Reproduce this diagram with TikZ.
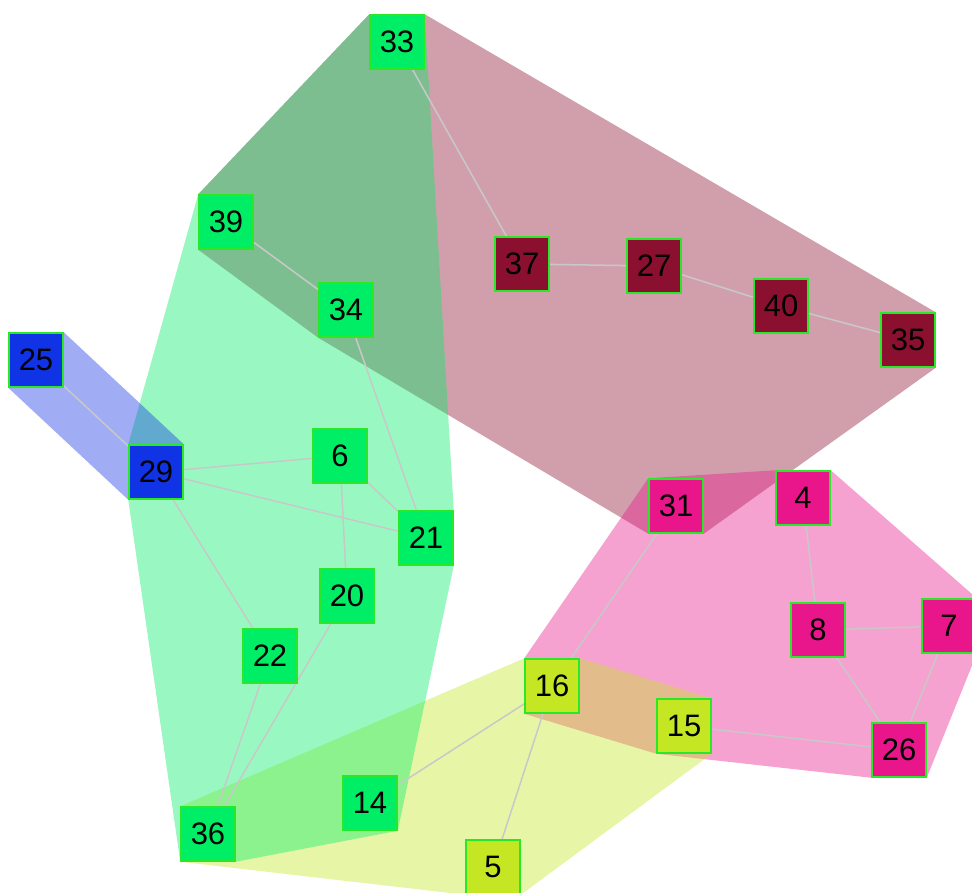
\documentclass[tikz,border=0pt]{standalone}
\usepackage{fontspec}
\setmainfont{Liberation Sans}
\pgfdeclarelayer{hulls}
\pgfdeclarelayer{edges}
\pgfsetlayers{hulls,edges,main}
\definecolor{cgreen}{RGB}{0,238,102}
\definecolor{cmaroon}{RGB}{139,16,48}
\definecolor{cpink}{RGB}{232,22,138}
\definecolor{cyellow}{RGB}{196,230,35}
\definecolor{cblue}{RGB}{17,51,230}
\definecolor{cborder}{RGB}{40,232,40}
\definecolor{cedge}{RGB}{200,200,200}
\tikzset{
  vbox/.style={draw=cborder, line width=1.5pt, minimum size=54pt, inner sep=0pt,
    font=\fontsize{31}{31}\selectfont, text=black},
  gnode/.style={vbox, fill=cgreen},
  mnode/.style={vbox, fill=cmaroon},
  pnode/.style={vbox, fill=cpink},
  ynode/.style={vbox, fill=cyellow},
  bnode/.style={vbox, fill=cblue},
  link/.style={draw=cedge, line width=1.5pt},
  hull/.style={fill opacity=0.4, draw=none},
}
\begin{document}
\begin{tikzpicture}[x=1pt,y=-1pt]
\useasboundingbox (0,0) rectangle (972,892);
% nodes
\node[gnode] (n33) at (397,42) {33};
\node[gnode] (n39) at (226,222) {39};
\node[gnode] (n34) at (346,310) {34};
\node[mnode] (n37) at (522,264) {37};
\node[mnode] (n27) at (654,266) {27};
\node[mnode] (n40) at (781,306) {40};
\node[mnode] (n35) at (908,340) {35};
\node[bnode] (n25) at (36,360) {25};
\node[bnode] (n29) at (156,472) {29};
\node[gnode] (n6) at (340,456) {6};
\node[gnode] (n21) at (426,538) {21};
\node[gnode] (n20) at (347,596) {20};
\node[gnode] (n22) at (270,656) {22};
\node[pnode] (n31) at (676,506) {31};
\node[pnode] (n4) at (803,498) {4};
\node[pnode] (n8) at (818,630) {8};
\node[pnode] (n7) at (949,626) {7};
\node[pnode] (n26) at (899,750) {26};
\node[ynode] (n15) at (684,726) {15};
\node[ynode] (n16) at (552,686) {16};
\node[gnode] (n14) at (370,803) {14};
\node[gnode] (n36) at (208,834) {36};
\node[ynode] (n5) at (493,867) {5};
% hulls
\begin{pgfonlayer}{hulls}
\fill[hull, cmaroon] (n33.north west) -- (n33.north east) -- (n35.north east) -- (n35.south east)
  -- (n31.south east) -- (n31.south west) -- (n34.south west) -- (n39.south west) -- (n39.north west) -- cycle;
\fill[hull, cpink] (n16.north west) -- (n31.north west) -- (n4.north west) -- (n4.north east)
  -- (n7.north east) -- (n7.south east) -- (n26.south east) -- (n26.south west) -- (n15.south west) -- (n16.south west) -- cycle;
\fill[hull, cyellow] (n16.north west) -- (n16.north east) -- (n15.north east) -- (n15.south east)
  -- (n5.south east) -- (n5.south west) -- (n36.south west) -- (n36.north west) -- cycle;
\fill[hull, cgreen] (n33.north west) -- (n33.north east) -- (n21.north east) -- (n21.south east)
  -- (n14.south east) -- (n36.south east) -- (n36.south west) -- (n29.south west) -- (n29.north west) -- (n39.north west) -- cycle;
\fill[hull, cblue] (n25.north west) -- (n25.north east) -- (n29.north east) -- (n29.south east)
  -- (n29.south west) -- (n25.south west) -- cycle;
\end{pgfonlayer}
% edges
\begin{pgfonlayer}{edges}
\draw[link] (n33) -- (n37);
\draw[link] (n39) -- (n34);
\draw[link] (n34) -- (n21);
\draw[link] (n29) -- (n25);
\draw[link] (n29) -- (n6);
\draw[link] (n29) -- (n21);
\draw[link] (n29) -- (n22);
\draw[link] (n6) -- (n21);
\draw[link] (n6) -- (n20);
\draw[link] (n20) -- (n36);
\draw[link] (n22) -- (n36);
\draw[link] (n37) -- (n27);
\draw[link] (n27) -- (n40);
\draw[link] (n40) -- (n35);
\draw[link] (n31) -- (n16);
\draw[link] (n4) -- (n8);
\draw[link] (n8) -- (n7);
\draw[link] (n8) -- (n26);
\draw[link] (n7) -- (n26);
\draw[link] (n15) -- (n26);
\draw[link] (n16) -- (n14);
\draw[link] (n16) -- (n5);
\end{pgfonlayer}
\end{tikzpicture}
\end{document}
